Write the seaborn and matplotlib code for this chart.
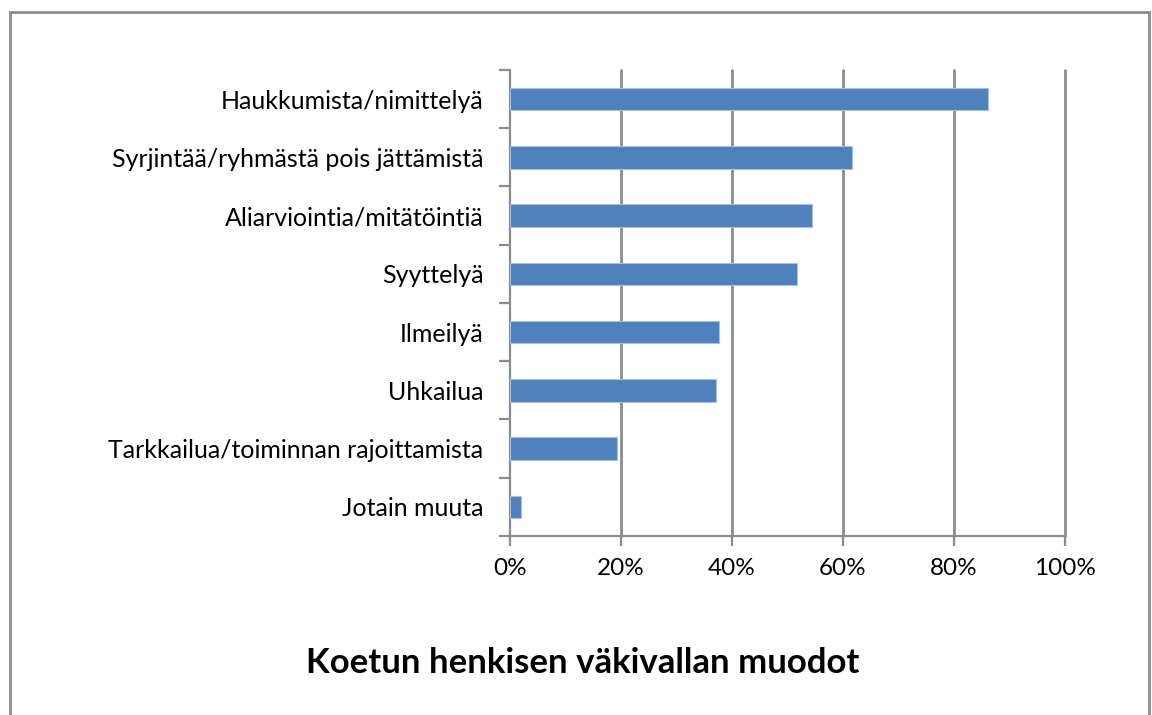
import matplotlib
matplotlib.use("Agg")
import matplotlib.pyplot as plt
import seaborn as sns
import pandas as pd
import numpy as np
from matplotlib.ticker import FixedLocator, PercentFormatter
from matplotlib.patches import Rectangle

categories = [
    "Haukkumista/nimittelyä",
    "Syrjintää/ryhmästä pois jättämistä",
    "Aliarviointia/mitätöintiä",
    "Syyttelyä",
    "Ilmeilyä",
    "Uhkailua",
    "Tarkkailua/toiminnan rajoittamista",
    "Jotain muuta",
]
values = [86.2, 61.6, 54.4, 51.7, 37.7, 37.1, 19.2, 1.9]
xticks = [0, 20, 40, 60, 80, 100]
title = "Koetun henkisen väkivallan muodot"

sns.set_theme(style="white")
plt.rcParams['font.family'] = ['Lato', 'DejaVu Sans']

df = pd.DataFrame({"cat": categories, "val": values})

fig = plt.figure(figsize=(11.52, 7.15), dpi=100)
ax = fig.add_axes([510/1152, 1-536/715, (1065-510)/1152, (536-70)/715])

sns.barplot(data=df, y="cat", x="val", orient="h", color="#4F81BD",
            saturation=1, width=0.39, edgecolor="#A7C0DE", linewidth=0.8,
            ax=ax, zorder=3)

ax.set_xlim(0, 100)
ax.set_ylim(len(categories) - 0.5, -0.5)
ax.set_xticks(xticks)
ax.xaxis.set_major_formatter(PercentFormatter(decimals=0))
ax.set_xlabel("")
ax.set_ylabel("")

grid_c = "#8C8C8C"
for x in xticks[1:]:
    ax.axvline(x, color=grid_c, lw=2, zorder=1, clip_on=False)

for s in ["top", "right"]:
    ax.spines[s].set_visible(False)
for s in ["left", "bottom"]:
    ax.spines[s].set_color(grid_c)
    ax.spines[s].set_linewidth(1.6)

ax.yaxis.set_minor_locator(FixedLocator(np.arange(-0.5, len(categories), 1.0)))
ax.tick_params(axis="y", which="major", length=0, pad=19, labelsize=18, labelcolor="#000000")
ax.tick_params(axis="y", which="minor", length=8, width=1.6, color=grid_c, left=True)
ax.tick_params(axis="x", which="major", length=7, width=1.6, color=grid_c, bottom=True,
               labelsize=17.5, labelcolor="#000000", pad=9)

fig.text(583/1152, 1-663/715, title, ha="center", va="center",
         fontsize=25, fontweight="bold", color="#000000")

fig.patches.append(Rectangle((10/1152, -0.05), (1149-10)/1152, 1.05-12/715,
                             transform=fig.transFigure, fill=False,
                             edgecolor="#8C8C8C", lw=2))

fig.savefig("out.png", dpi=100)
